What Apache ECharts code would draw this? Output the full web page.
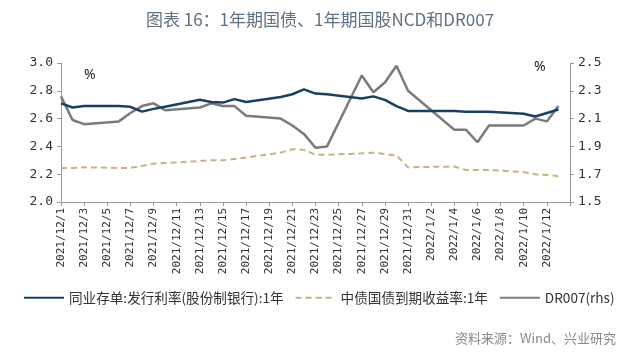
<!DOCTYPE html>
<html>
<head>
<meta charset="utf-8">
<script src="https://cdn.jsdelivr.net/npm/echarts@6/dist/echarts.min.js"></script>
<style>
html,body{margin:0;padding:0;background:#fff;}
#c{width:640px;height:358px;}
</style>
</head>
<body>
<div id="c"></div>
<script>
// Calendar days on the x axis (2021/12/1 .. 2022/1/14)
const dates = [
  "2021/12/1","2021/12/2","2021/12/3","2021/12/4","2021/12/5","2021/12/6","2021/12/7","2021/12/8","2021/12/9","2021/12/10",
  "2021/12/11","2021/12/12","2021/12/13","2021/12/14","2021/12/15","2021/12/16","2021/12/17","2021/12/18","2021/12/19","2021/12/20",
  "2021/12/21","2021/12/22","2021/12/23","2021/12/24","2021/12/25","2021/12/26","2021/12/27","2021/12/28","2021/12/29","2021/12/30",
  "2021/12/31","2022/1/1","2022/1/2","2022/1/3","2022/1/4","2022/1/5","2022/1/6","2022/1/7","2022/1/8","2022/1/9",
  "2022/1/10","2022/1/11","2022/1/12","2022/1/13","2022/1/14"
];
// 同业存单:发行利率(股份制银行):1年 (left axis)
const ncd = [
  2.71,2.68,2.69,null,null,2.69,2.685,2.65,2.67,2.685,
  null,null,2.735,2.72,2.715,2.74,2.72,null,null,2.755,
  2.775,2.81,2.78,2.775,null,null,2.745,2.76,2.735,2.69,
  2.655,null,null,null,2.655,2.65,2.65,2.65,null,null,
  2.635,2.615,2.64,2.665,null
];
// 中债国债到期收益率:1年 (left axis)
const gov = [
  2.245,2.245,2.25,null,null,2.245,2.245,2.26,2.275,2.28,
  null,null,2.295,2.30,2.30,2.31,2.32,null,null,2.355,
  2.38,2.375,2.34,2.34,null,null,2.35,2.355,2.345,2.335,
  2.25,null,null,null,2.255,2.23,2.23,2.23,null,null,
  2.215,2.20,2.195,2.185,null
];
// DR007 (right axis)
const dr007 = [
  2.26,2.09,2.06,null,null,2.08,2.14,2.19,2.21,2.16,
  null,null,2.18,2.21,2.19,2.19,2.12,null,null,2.10,
  2.05,1.99,1.89,1.90,null,null,2.41,2.29,2.36,2.48,
  2.30,null,null,null,2.02,2.02,1.93,2.05,null,null,
  2.05,2.10,2.08,2.19,null
];
const names = ["同业存单:发行利率(股份制银行):1年","中债国债到期收益率:1年","DR007(rhs)"];
const colors = ["#1b3f63","#c9b27f","#7b7b7b"];

const chart = echarts.init(document.getElementById('c'), null, {renderer:'canvas'});
const monoFont = "'DejaVu Sans Mono', monospace";
chart.setOption({
  animation:false,
  backgroundColor:'#fff',
  title:{
    text:'图表 16：1年期国债、1年期国股NCD和DR007',
    left:'center', top:6,
    textStyle:{fontFamily:"'Noto Sans CJK SC'", fontSize:17, fontWeight:'normal', color:'#5d7183'}
  },
  grid:{left:61, right:70, top:63, bottom:156, containLabel:false},
  legend:{
    left:18, top:286, itemWidth:40, itemHeight:10, itemGap:11,
    data:names,
    itemStyle:{opacity:0},
    textStyle:{fontFamily:"'Noto Sans CJK SC'", fontSize:13.6, color:'#333'}
  },
  graphic:[
    {type:'text', left:84, top:68, style:{text:'%', font:"14px 'Noto Sans'", fill:'#222'}},
    {type:'text', left:534, top:60, style:{text:'%', font:"14px 'Noto Sans'", fill:'#222'}},
    {type:'text', right:24, top:332, style:{text:'资料来源：Wind、兴业研究', font:"13px 'Noto Sans CJK SC'", fill:'#8a8a8a'}}
  ],
  xAxis:{
    type:'category', data:dates, boundaryGap:false,
    axisLine:{lineStyle:{color:'#999', width:1}},
    axisTick:{interval:function(i){return i%2===0;}, length:4, lineStyle:{color:'#999'}},
    axisLabel:{
      interval:function(i){return i%2===0 && i<44;},
      rotate:90, fontFamily:monoFont, fontSize:11, color:'#333', margin:6
    },
    splitLine:{show:false}
  },
  yAxis:[
    {type:'value', min:2.0, max:3.0, interval:0.2, position:'left',
     axisLine:{show:true, lineStyle:{color:'#999'}},
     axisTick:{show:true, length:4, lineStyle:{color:'#999'}},
     axisLabel:{formatter:v=>v.toFixed(1), fontFamily:monoFont, fontSize:13, color:'#333', margin:8},
     splitLine:{show:false}},
    {type:'value', min:1.5, max:2.5, alignTicks:true, position:'right',
     axisLine:{show:true, lineStyle:{color:'#999'}},
     axisTick:{show:true, length:4, lineStyle:{color:'#999'}},
     axisLabel:{formatter:v=>v.toFixed(1), fontFamily:monoFont, fontSize:13, color:'#333', margin:8},
     splitLine:{show:false}}
  ],
  series:[
    {name:names[0], type:'line', data:ncd, yAxisIndex:0, symbol:'none', connectNulls:true,
     lineStyle:{color:colors[0], width:2.5}, itemStyle:{color:colors[0]}, z:4},
    {name:names[1], type:'line', data:gov, yAxisIndex:0, symbol:'none', connectNulls:true,
     lineStyle:{color:colors[1], width:2, type:[6,4]}, itemStyle:{color:colors[1]}, z:3},
    {name:names[2], type:'line', data:dr007, yAxisIndex:1, symbol:'none', connectNulls:true,
     lineStyle:{color:colors[2], width:2.5}, itemStyle:{color:colors[2]}, z:3}
  ]
});
</script>
</body>
</html>
